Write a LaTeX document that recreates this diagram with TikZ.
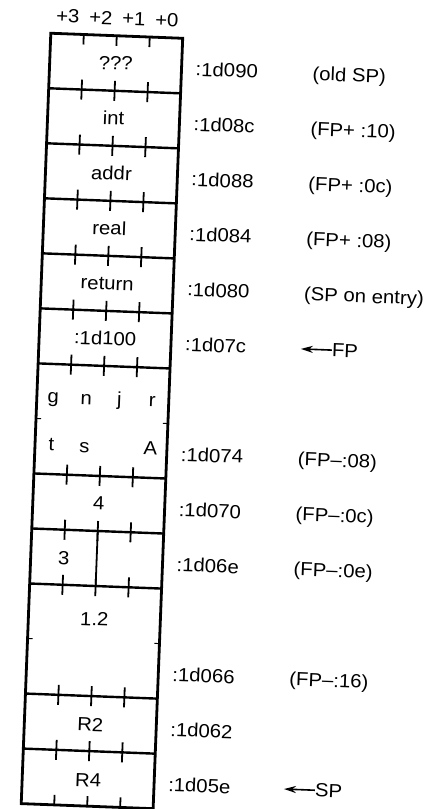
\documentclass[tikz,border=0pt]{standalone}
\usepackage{fontspec}
\setmainfont[FakeStretch=1.07]{Liberation Sans}
\usetikzlibrary{arrows.meta}
\begin{document}
\begin{tikzpicture}[x={(1pt,0pt)},y={(0pt,-1pt)},
  txt/.style={font=\fontsize{19}{21}\selectfont, inner sep=0pt, anchor=base},
  lbl/.style={txt, anchor=base west},
  outline/.style={line width=2.8pt},
  rule/.style={line width=2.4pt},
  tick/.style={line width=1.8pt},
  midtick/.style={line width=1pt},
  ptr/.style={line width=1.6pt, -{Stealth[length=12pt,width=7pt]}}
]
\useasboundingbox (0,0) rectangle (425,809);
\begin{scope}[rotate around={-2.2:(103,420)}, transform shape]
  % frame
  \draw[outline] (36,35.5) rectangle (168,806.48);
  % word boundaries
  \foreach \y in {90.57,145.64,200.71,255.78,310.85,365.92,476.06,531.13,586.2,696.34,751.41}{
    \draw[rule] (36,\y) -- (168,\y);
    \foreach \x in {69,102,135}{\draw[tick] (\x,\y-10) -- (\x,\y+10);}
  }
  \foreach \x in {69,102,135}{
    \draw[tick] (\x,35.5) -- (\x,45.5);
    \draw[tick] (\x,796.5) -- (\x,806.48);
  }
  % half-word divider
  \draw[tick] (102,531.13) -- (102,586.2);
  % mid marks of double-word cells
  \foreach \y in {421,641.27}{
    \draw[midtick] (36,\y) -- (41,\y);
    \draw[midtick] (163,\y) -- (168,\y);
  }
  % byte offsets
  \node[txt] (h3) at (52.5,24.5) {+3};
  \node[txt] (h2) at (85.5,24.5) {+2};
  \node[txt] (h1) at (118.5,24.5) {+1};
  \node[txt] (h0) at (151.5,24.5) {+0};
  % cell contents
  \node[txt] (r1) at (102,69.5) {???};
  \node[txt] (r2) at (102,124.6) {int};
  \node[txt] (r3) at (102,179.7) {addr};
  \node[txt] (r4) at (102,234.7) {real};
  \node[txt] (r5) at (102,289.8) {return};
  \node[txt] (r6) at (102,345) {:1d100};
  \node[txt] (sg) at (52.5,405) {g};
  \node[txt] (sn) at (85.5,405) {n};
  \node[txt] (sj) at (118.5,405) {j};
  \node[txt] (sr) at (151.5,405) {r};
  \node[txt] (st) at (52.5,453) {t};
  \node[txt] (ss) at (85.5,453) {s};
  \node[txt] (sA) at (151.5,453) {A};
  \node[txt] (r8) at (102,510) {4};
  \node[txt] (r9) at (69,566) {3};
  \node[txt] (r10) at (102,626) {1.2};
  \node[txt] (r11) at (102,731.5) {R2};
  \node[txt] (r12) at (102,787) {R4};
  % addresses
  \node[lbl] (a1) at (182,72.5) {:1d090};
  \node[lbl] (a2) at (182,127.6) {:1d08c};
  \node[lbl] (a3) at (182,182.7) {:1d088};
  \node[lbl] (a4) at (182,237.7) {:1d084};
  \node[lbl] (a5) at (182,292.8) {:1d080};
  \node[lbl] (a6) at (182,347.9) {:1d07c};
  \node[lbl] (a7) at (182,458) {:1d074};
  \node[lbl] (a8) at (182,513.1) {:1d070};
  \node[lbl] (a9) at (182,568.2) {:1d06e};
  \node[lbl] (a10) at (182,678.3) {:1d066};
  \node[lbl] (a11) at (182,733.4) {:1d062};
  \node[lbl] (a12) at (182,788.4) {:1d05e};
  % comments
  \node[lbl] (c1) at (299,72.5) {(old SP)};
  \node[lbl] (c2) at (299,127.6) {(FP+ :10)};
  \node[lbl] (c3) at (299,182.7) {(FP+ :0c)};
  \node[lbl] (c4) at (299,237.7) {(FP+ :08)};
  \node[lbl] (c5) at (299,292.8) {(SP on entry)};
  \node[lbl] (fp) at (329,347.9) {FP};
  \coordinate (fptip) at (298,341.4);
  \draw[ptr] (fp.west |- fptip) -- (fptip);
  \node[lbl] (c7) at (299,458) {(FP–:08)};
  \node[lbl] (c8) at (299,513.1) {(FP–:0c)};
  \node[lbl] (c9) at (299,568.2) {(FP–:0e)};
  \node[lbl] (c10) at (299,678.3) {(FP–:16)};
  \node[lbl] (sp) at (329,788.4) {SP};
  \coordinate (sptip) at (298,781.9);
  \draw[ptr] (sp.west |- sptip) -- (sptip);
\end{scope}
\end{tikzpicture}
\end{document}
